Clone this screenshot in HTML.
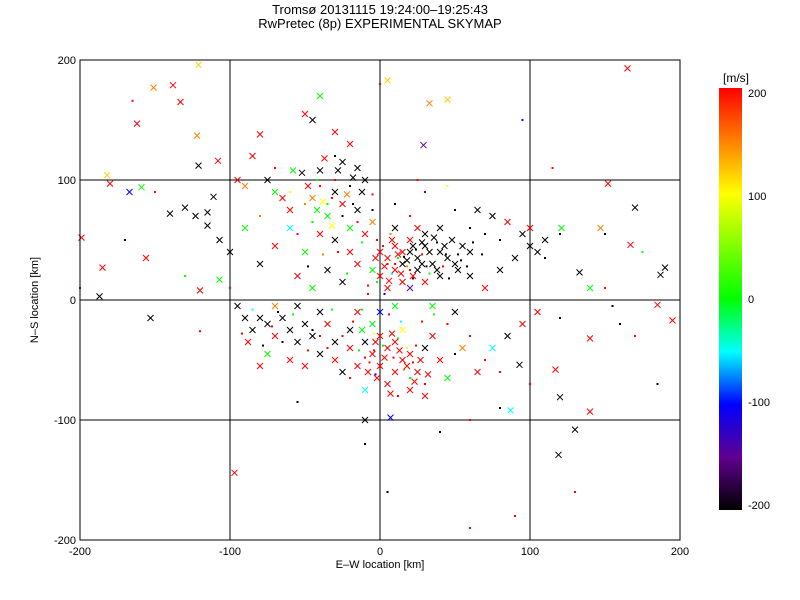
<!DOCTYPE html>
<html><head><meta charset="utf-8"><style>
body{margin:0;background:#fff;}
svg{display:block;font-family:"Liberation Sans",sans-serif;}
</style></head><body>
<svg id="chart" width="800" height="600" viewBox="0 0 800 600" xmlns="http://www.w3.org/2000/svg">
<defs>
<linearGradient id="cb" x1="0" y1="0" x2="0" y2="1">
<stop offset="0" stop-color="#ff0000"/><stop offset="0.125" stop-color="#ff8000"/>
<stop offset="0.25" stop-color="#ffff00"/><stop offset="0.375" stop-color="#80ff00"/>
<stop offset="0.5" stop-color="#00ff00"/><stop offset="0.625" stop-color="#00ffff"/>
<stop offset="0.75" stop-color="#0000ff"/><stop offset="0.875" stop-color="#600090"/>
<stop offset="1" stop-color="#000000"/></linearGradient></defs>
<rect width="800" height="600" fill="#fff"/>
<text x="380" y="14" font-size="13" text-anchor="middle">Tromsø 20131115  19:24:00–19:25:43</text>
<text x="380" y="28" font-size="13" text-anchor="middle">RwPretec (8p) EXPERIMENTAL SKYMAP</text>
<g id="grid"></g>
<g id="marks"></g>
<rect x="80" y="60" width="600" height="480" fill="none" stroke="#000"/>
<g id="ticks" font-size="11"></g>
<text x="380" y="568" font-size="11" text-anchor="middle">E–W location [km]</text>
<text x="0" y="0" font-size="11" text-anchor="middle" transform="translate(38,300) rotate(-90)">N–S location [km]</text>
<rect x="719" y="88" width="23" height="422" fill="url(#cb)"/>
<text x="736" y="82" font-size="12" text-anchor="middle">[m/s]</text>
<g id="cbticks" font-size="11"></g>
</svg>
<script>
const xTicks=[-200,-100,0,100,200];
const yTicks=[-200,-100,0,100,200];
const cbTicks=[200,100,0,-100,-200];
const crosses=[[-121,196,120],[-151,177,150],[-138,179,200],[-133,165,200],[-162,147,200],[-122,137,150],[-182,104,120],[-180,97,200],[-167,90,-100],[-159,94,0],[-199,52,200],[-185,27,200],[-156,35,200],[-153,-15,-200],[-97,-144,200],[-187,3,-200],[-121,112,-200],[-108,116,200],[-130,77,-200],[-115,73,-200],[-111,86,-200],[-107,50,-200],[-115,62,-200],[-123,70,-200],[-107,17,0],[-120,8,200],[-140,72,-200],[-95,100,200],[-90,95,150],[-85,120,200],[-80,138,200],[-75,100,-200],[-70,90,0],[-65,85,200],[-60,75,200],[-58,108,0],[-52,106,-200],[-45,150,-200],[-40,170,0],[-50,155,200],[-30,140,200],[-20,130,200],[-37,118,200],[-25,115,-200],[-15,110,-200],[-10,100,-200],
[165,193,200],[33,164,150],[45,167,120],[5,183,120],[29,129,-150],[-40,108,-200],[152,97,200],[170,77,-200],[167,46,200],[190,27,-200],[187,21,-200],[185,-4,200],[195,-17,200],[133,23,-200],[140,10,0],[121,60,0],[147,60,150],[140,-32,200],[117,-58,200],[120,-81,-200],[119,-129,-200],[130,-108,-200],[140,-93,200],[87,-92,-50],[7,-98,-100],[-10,-100,-200],[93,-54,-200],
[65,75,-200],[75,70,-200],[85,65,200],[95,55,-200],[100,45,-200],[105,40,-200],[110,50,-200],[100,60,200],[90,35,-200],[80,25,-200],[85,-30,-200],[95,-20,200],[105,-10,200],[60,20,-200],[70,10,200],[50,-10,-200],[75,-40,-50],[65,-60,200],
[20,40,-200],[25,35,-200],[30,45,-200],[35,30,-200],[40,40,-200],[45,35,-200],[50,30,-200],[55,45,-200],[15,30,-200],[25,25,-200],[40,20,-200],[48,50,-200],[30,55,-200],[60,40,-200],[20,50,200],[10,45,200],[15,40,200],[5,35,200],[10,25,200],[15,15,200],[0,20,200],[5,10,200],[-5,25,0],[0,40,200],[20,10,-150],[30,15,200],[25,60,200],[10,60,-200],[40,60,-200],[35,-5,0],
[18,33,-200],[28,30,-200],[33,40,-200],[38,25,-200],[43,45,-200],[52,25,-200],[22,45,-200],[12,38,200],[8,50,200],[3,28,200],[14,22,200],[22,20,200],[6,16,200],[-3,35,200],[28,48,-200],[36,52,-200],
[0,-30,200],[5,-40,200],[10,-35,200],[-5,-45,200],[15,-50,200],[20,-45,200],[-10,-35,-200],[0,-55,200],[10,-60,200],[25,-60,200],[30,-40,-200],[-15,-55,200],[-20,-40,200],[5,-70,200],[20,-75,200],[-5,-20,0],[15,-25,100],[35,-30,200],[40,-50,200],[-25,-60,-200],[-30,-50,200],[45,-65,0],[-10,-75,-50],[30,-80,200],[55,-40,150],[0,-10,-100],[-15,-10,200],[10,-5,0],
[-3,-35,200],[3,-48,200],[8,-28,200],[13,-42,200],[18,-55,200],[23,-68,200],[-8,-60,200],[-12,-25,0],[27,-50,200],[32,-62,200],[-2,-65,200],[7,-78,200],
[-90,-15,-200],[-85,-25,-200],[-80,-15,-200],[-75,-20,-200],[-70,-30,200],[-65,-15,-200],[-60,-25,-200],[-55,-35,-200],[-50,-20,-200],[-45,-30,-200],[-40,-45,-200],[-35,-20,200],[-30,-35,-200],[-60,-50,200],[-75,-45,0],[-88,-35,200],[-50,-55,200],[-40,-10,-200],[-55,-5,-200],[-70,-5,150],[-95,-5,-200],[-20,-25,-200],[-80,-55,200],
[-30,90,-200],[-35,70,0],[-25,80,200],[-15,75,-200],[-45,85,150],[-20,60,0],[-10,55,200],[-30,50,-200],[-40,55,200],[-50,40,0],[-20,40,200],[-5,65,150],[-60,60,-50],[-70,45,200],[-80,30,-200],[-55,20,200],[-35,25,-200],[-15,30,200],[-45,10,0],[-25,15,-200],[-90,60,0],[-100,40,-200],
[-28,108,-200],[-18,102,-200],[-38,82,100],[-42,75,0],[-32,62,100],[-22,88,150],[-12,90,-200],[-48,95,200]];
const dots=[[0,180,200],[-200,10,200],[-120,-26,200],[95,150,-100],[115,110,200],[130,-160,200],[90,-180,200],[60,-190,200],[5,-160,-200],[-10,-120,-200],[-55,-85,-200],[40,-110,-200],[185,-70,-200],[175,40,0],[160,-20,-200],[120,-15,-200],[150,10,200],[100,-70,200],[80,-90,-200],[60,-100,200],[-165,166,200],
[5,30,200],[8,22,-50],[12,35,0],[18,28,150],[22,18,-200],[28,38,200],[33,22,0],[38,48,-200],[42,28,200],[46,18,-200],[52,38,-200],[58,28,-200],[62,48,-200],[68,38,-200],[-2,15,0],[3,5,-100],[-8,5,200],[-12,-8,0],[6,-12,200],[14,-18,-50],[-4,-28,100],[2,-38,0],[9,-48,200],[-7,-52,200],[16,-58,150],[24,-38,200],[-14,-42,0],[-18,-18,200],[28,-18,200],[36,-12,0],[-25,-30,200],[-32,-8,0],[-40,-30,200],[-48,-42,200],[-58,-12,0],[-65,-35,-200],[-72,-22,200],[-85,-8,-50],[-92,-28,200],[-78,-38,-200],[20,-65,0],[30,-70,200],[-3,-62,-100],[12,-80,200],[-20,-65,200],[45,-20,200],[50,-45,-200],[60,-30,200],[70,-50,200],[80,-60,200],
[-30,100,200],[-20,95,-200],[-40,95,200],[-50,80,150],[-35,80,0],[-25,70,-200],[-15,65,200],[-5,75,-200],[-45,65,0],[-55,55,200],[-28,40,200],[-12,48,0],[-2,50,200],[-38,38,150],[-48,28,-200],[-22,22,0],[-8,12,200],[-60,90,100],[-70,110,200],[-80,70,150],[-30,120,-200],[-5,88,200],[10,80,-200],[20,70,200],[30,90,-150],[50,75,-200],[60,60,-200],[70,55,-200],[80,50,-200],[110,35,-200],[120,55,-200],[150,55,-200],[155,-5,-200],[170,-30,200],[45,95,100],[25,100,200],[-100,10,200],[-130,20,0],[-150,90,200],[-170,50,-200],
[16,36,-200],[24,42,-200],[31,28,-200],[44,38,-200],[54,33,-200],[20,25,200],[10,30,200],[2,45,200],[7,55,150],[-4,-42,200],[12,-32,0],[22,-52,200],[-10,-48,200],[18,-40,100],[-45,-25,-200],[-68,-10,-200],[-35,-40,200],[-32,85,200],[-42,100,0],[-18,80,-200]];

const NS="http://www.w3.org/2000/svg";
const sx=v=>380+v*1.5, sy=v=>300-v*1.2, cy=v=>299-v*1.03;
const stops=[[255,0,0],[255,128,0],[255,255,0],[128,255,0],[0,255,0],[0,255,255],[0,0,255],[96,0,144],[0,0,0]];
function col(v){let t=(200-Math.max(-200,Math.min(200,v)))/400*8;let i=Math.min(7,Math.floor(t)),f=t-i;
const a=stops[i],b=stops[i+1];return `rgb(${a.map((c,k)=>Math.round(c+(b[k]-c)*f)).join(',')})`;}
function mk(tag,attrs,parent){const e=document.createElementNS(NS,tag);for(const k in attrs)e.setAttribute(k,attrs[k]);parent.appendChild(e);return e;}
const grid=document.getElementById('grid'),ticks=document.getElementById('ticks'),marks=document.getElementById('marks'),cbt=document.getElementById('cbticks');
xTicks.forEach(t=>{
 if(t>-200&&t<200){const l=mk('line',{x1:sx(t),x2:sx(t),y1:60,y2:540,stroke:'#000'},grid);
 
 }
 const tx=mk('text',{x:sx(t),y:555,'text-anchor':'middle'},ticks);tx.textContent=t;
 
 
});
yTicks.forEach(t=>{
 if(t>-200&&t<200){const l=mk('line',{x1:80,x2:680,y1:sy(t),y2:sy(t),stroke:'#000'},grid);
 
 }
 const tx=mk('text',{x:76,y:sy(t)+4,'text-anchor':'end'},ticks);tx.textContent=t;
 
 
});
cbTicks.forEach(t=>{
 const tx=mk('text',{x:748,y:cy(t)+4},cbt);tx.textContent=t;
 
 
});
dots.forEach(d=>{
 const r=mk('rect',{x:sx(d[0])-1,y:sy(d[1])-1,width:2,height:2,fill:col(d[2])},marks);
 
 
});
crosses.forEach(d=>{
 const x=sx(d[0]),y=sy(d[1]);
 const p=mk('path',{d:`M${x-3},${y-3}L${x+3},${y+3}M${x-3},${y+3}L${x+3},${y-3}`,stroke:col(d[2]),'stroke-width':1,fill:'none'},marks);
 
 
});
</script>
</body></html>
